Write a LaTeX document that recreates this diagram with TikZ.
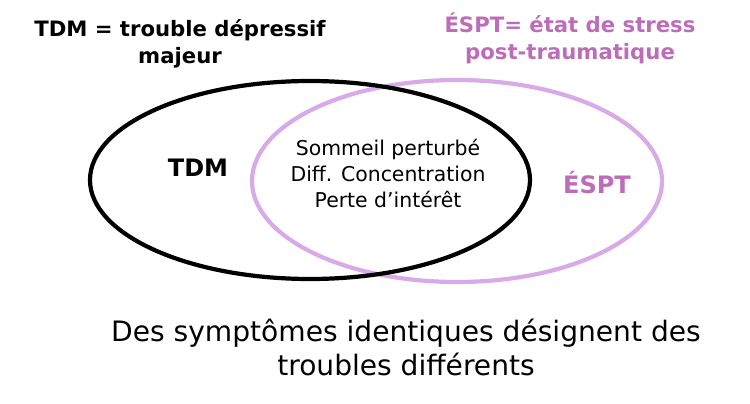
\documentclass[tikz,border=0pt]{standalone}
\usepackage{fontspec}
\setmainfont{DejaVu Sans}
\usepackage{xcolor}
\usetikzlibrary{positioning}
\definecolor{Lilac}{HTML}{D8AAE8}
\definecolor{Plum}{HTML}{BC6CB8}
\definecolor{Ink}{HTML}{000000}

\begin{document}
\begin{tikzpicture}[x=1pt,y=-1pt,
  ring/.style={line width=4.2pt},
  title/.style={font=\fontsize{21.2}{27}\selectfont\bfseries,align=center},
  tag/.style={font=\fontsize{24}{26}\selectfont\bfseries},
  symptom/.style={font=\fontsize{20.4}{26}\selectfont,align=center,color=Ink},
  caption/.style={font=\fontsize{28.1}{34}\selectfont,align=center,color=Ink}
]
\useasboundingbox (0,0) rectangle (750,404);

% the two sets
\draw[ring,Lilac] (457,181) ellipse (205pt and 101pt);
\draw[ring,Ink] (310,180) ellipse (220pt and 99pt);

% headings
\node[title,Ink] (tdmdef) at (180,44) {TDM = trouble dépressif\\majeur};
\node[title,Plum] (esptdef) at (570,38) {ÉSPT= état de stress\\post-traumatique};

% set labels
\node[tag,Ink] (tdm) at (198,168) {TDM};
\node[tag,Plum] (espt) at (597,183) {ÉSPT};

% shared symptoms
\node[symptom] (shared) at (388,173) {Sommeil perturbé\\Diff. Concentration\\Perte d’intérêt};

\node[caption] (note) at (406,347) {Des symptômes identiques désignent des\\troubles différents};
\end{tikzpicture}
\end{document}
